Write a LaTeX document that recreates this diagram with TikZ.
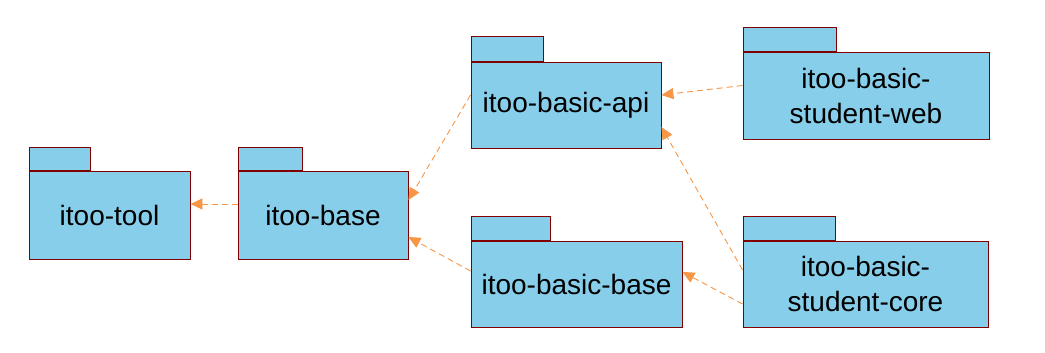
\documentclass[tikz,border=0pt]{standalone}
\usepackage{fontspec}
\setmainfont{Liberation Sans}
\usetikzlibrary{arrows.meta,calc}
\definecolor{pkgfill}{RGB}{135,206,235}
\definecolor{pkgline}{RGB}{128,0,0}
\definecolor{deporange}{RGB}{247,150,70}
\tikzset{
  pkgbody/.style={draw=pkgline, fill=pkgfill, line width=0.9pt, inner sep=0pt, align=center, font=\fontsize{28}{35}\selectfont},
  pkgtab/.style={draw=pkgline, fill=pkgfill, line width=0.9pt, inner sep=0pt, anchor=south west},
  dep/.style={draw=deporange, line width=0.9pt, dash pattern=on 6pt off 4pt, -{Triangle[length=12pt,width=11pt]}}
}
\begin{document}
\begin{tikzpicture}[x=1pt,y=-1pt]
\useasboundingbox (0,0) rectangle (1045,353);
% bodies
\node[pkgbody, minimum width=161pt, minimum height=88pt] (tool) at (109.5,215) {itoo-tool};
\node[pkgtab, minimum width=61pt, minimum height=23pt] (tooltab) at (tool.north west) {};
\node[pkgbody, minimum width=170pt, minimum height=88pt] (base) at (323,215) {itoo-base};
\node[pkgtab, minimum width=64pt, minimum height=23pt] (basetab) at (base.north west) {};
\node[pkgbody, minimum width=190pt, minimum height=86pt] (api) at (566,105) {itoo-basic-api};
\node[pkgtab, minimum width=72pt, minimum height=25pt] (apitab) at (api.north west) {};
\node[pkgbody, minimum width=246pt, minimum height=87pt] (web) at (866,95.5) {itoo-basic-\\student-web};
\node[pkgtab, minimum width=93pt, minimum height=24pt] (webtab) at (web.north west) {};
\node[pkgbody, minimum width=211pt, minimum height=86pt] (bbase) at (576.5,284) {itoo-basic-base};
\node[pkgtab, minimum width=79pt, minimum height=24pt] (bbasetab) at (bbase.north west) {};
\node[pkgbody, minimum width=245pt, minimum height=86pt] (core) at (865.5,284) {itoo-basic-\\student-core};
\node[pkgtab, minimum width=92pt, minimum height=24pt] (coretab) at (core.north west) {};
% dependencies
\draw[dep] ($(base.west)+(0,-11)$) -- ($(tool.east)+(0,-11)$);
\draw[dep] ($(api.west)+(0,-10)$) -- ($(base.east)+(0,-15)$);
\draw[dep] ($(bbase.west)+(0,-13)$) -- ($(base.east)+(0,22)$);
\draw[dep] ($(web.west)+(0,-10)$) -- ($(api.east)+(0,-10)$);
\draw[dep] ($(core.west)+(0,-14)$) -- ($(api.east)+(0,22)$);
\draw[dep] ($(core.west)+(0,20)$) -- ($(bbase.east)+(0,-12)$);
\end{tikzpicture}
\end{document}
